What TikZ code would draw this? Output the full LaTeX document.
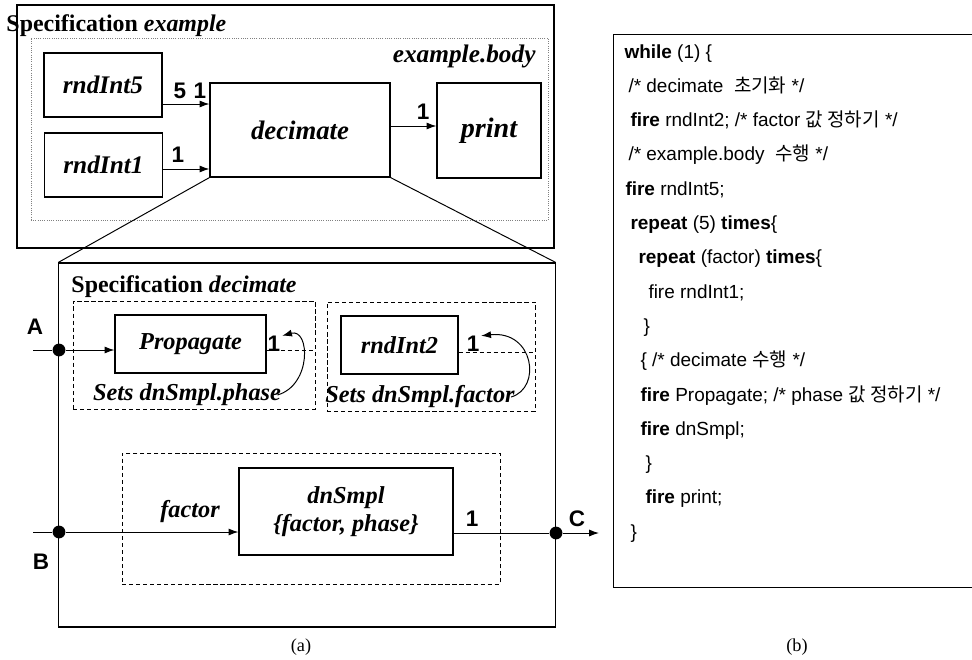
\documentclass[tikz,border=0pt]{standalone}
\usepackage{fontspec}
\setmainfont{Liberation Serif}
\setsansfont{Liberation Sans}
\newfontfamily\krfont{Noto Sans CJK KR}
\usetikzlibrary{arrows,arrows.meta,shapes,positioning}

\begin{document}
\begin{tikzpicture}[x=0.025cm, y=-0.025cm, >={Latex[length=7pt,width=5pt]}, line width=0.7pt,
    blk/.style={draw, line width=0.8pt, inner sep=0pt},
    bigtxt/.style={font=\bfseries\itshape\fontsize{18}{21}\selectfont},
    smalltxt/.style={font=\bfseries\itshape\fontsize{17.3}{20}\selectfont},
    num/.style={font=\sffamily\bfseries\fontsize{16}{18}\selectfont, inner sep=0pt},
    jdot/.style={circle, fill, inner sep=0pt, minimum size=0.32cm},
    dbox/.style={draw, dash pattern=on 3pt off 2pt, line width=0.6pt, inner sep=0pt},
    code/.style={font=\sffamily\fontsize{13.5}{16}\selectfont, anchor=base west, inner sep=0pt}]
  \useasboundingbox (0,0) rectangle (972,659);

  \node[blk, line width=0.9pt, minimum width=13.425cm, minimum height=6.075cm] (specex) at (285.5,126.5) {};
  \node[draw, gray, densely dotted, line width=0.6pt, minimum width=12.925cm, minimum height=4.55cm] (exbody) at (289.5,129) {};
  \node[font=\bfseries\fontsize{17}{20}\selectfont, anchor=base west, inner sep=0pt] (t1) at (6,31) {Specification \textit{example}};
  \node[bigtxt, anchor=base east, inner sep=0pt] (t2) at (536,62) {example.body};

  \node[blk, bigtxt, minimum width=2.95cm, minimum height=1.6cm] (r5) at (103,85) {rndInt5};
  \node[blk, bigtxt, minimum width=2.93cm, minimum height=1.6cm] (r1) at (103.5,165) {rndInt1};
  \node[blk, bigtxt, font=\bfseries\itshape\fontsize{19}{22}\selectfont, minimum width=4.5cm, minimum height=2.35cm] (dec) at (300,130) {decimate};
  \node[blk, bigtxt, font=\bfseries\itshape\fontsize{20}{22}\selectfont, minimum width=2.6cm, minimum height=2.375cm] (pr) at (489,130.5) {print};

  \coordinate (o5) at ([yshift=-0.475cm]r5.east);
  \coordinate (o1) at ([yshift=-0.1cm]r1.east);
  \coordinate (od) at ([yshift=0.1cm]dec.east);
  \draw[->] (o5) -- (o5 -| dec.west);
  \draw[->] (o1) -- (o1 -| dec.west);
  \draw[->] (od) -- (od -| pr.west);
  \node[num] (n5) at (180,91) {5};
  \node[num] (n51) at (200,91) {1};
  \node[num] (n11) at (178,155) {1};
  \node[num] (np) at (423,112) {1};

  \node[blk, minimum width=12.4cm, minimum height=9.1cm] (spdec) at (307,445) {};
  \draw (dec.south west) -- (spdec.north west);
  \draw (dec.south east) -- (spdec.north east);
  \node[font=\bfseries\fontsize{17}{20}\selectfont, anchor=base west, inner sep=0pt] (t3) at (71,292) {Specification \textit{decimate}};

  \node[dbox, minimum width=6.05cm, minimum height=2.7cm] (d1) at (194,355) {};
  \node[dbox, minimum width=5.2cm, minimum height=2.725cm] (d2) at (431,356.5) {};
  \node[dbox, minimum width=9.45cm, minimum height=3.275cm] (d3) at (311,518.5) {};

  \node[blk, smalltxt, minimum width=3.775cm, minimum height=1.45cm] (prop) at (190.5,344) {Propagate};
  \node[blk, smalltxt, minimum width=2.925cm, minimum height=1.45cm] (r2) at (399.5,345) {rndInt2};
  \node[blk, smalltxt, align=center, minimum width=5.35cm, minimum height=2.175cm] (dns) at (346,511.5) {dnSmpl\\\{factor, phase\}};

  \node[smalltxt, inner sep=0pt] (sp) at (187,395) {Sets dnSmpl.phase};
  \node[smalltxt, inner sep=0pt] (sf) at (420,397) {Sets dnSmpl.factor};
  \node[smalltxt, inner sep=0pt] (fac) at (190,512) {factor};
  \node[num] (p1) at (274,344) {1};
  \node[num] (f1) at (473,344) {1};
  \node[num] (o1n) at (472,519) {1};

  \node[jdot] (ja) at (59,350) {};
  \node[jdot] (jb) at (59,532) {};
  \node[jdot] (jc) at (556,533) {};
  \node[num] (la) at (35,327) {A};
  \node[num] (lb) at (41,562) {B};
  \node[num] (lc) at (577,519) {C};
  \coordinate (ain) at (33,350);
  \coordinate (bin) at (33,532);
  \coordinate (cout) at (599,533);

  \draw (ain) -- (ja);
  \draw[->] (ja) -- (ja -| prop.west);
  \draw (bin) -- (jb);
  \draw[->] (jb) -- (jb -| dns.west);
  \draw (jc -| dns.east) -- (jc);
  \draw[->] (jc) -- (cout);
  \coordinate (q2) at ([yshift=-0.175cm]r2.east);
  \draw[dbox] (ja -| prop.east) -- (ja -| d1.east);
  \draw[dbox] (q2) -- (q2 -| d2.east);
  \draw[->] ([xshift=-0.1cm]sp.east) .. controls (312,385) and (310,328) .. ([xshift=1pt]p1.north east);
  \draw[->] ([xshift=-0.1cm]sf.east) .. controls (542,388) and (534,330) .. ([xshift=1pt]f1.north east);

  \draw (972,34) -- (613,34) -- (613,587) -- (972,587);
  \node[code] (c1) at (624,58) {\textbf{while} (1) \{};
  \node[code] (c2) at (628,92.3) {/* decimate \ {\krfont 초기화} */};
  \node[code] (c3) at (630,126.6) {\textbf{fire} rndInt2; /* factor {\krfont 값 정하기} */};
  \node[code] (c4) at (628,160.9) {/* example.body \ {\krfont 수행} */};
  \node[code] (c5) at (625,195.2) {\textbf{fire} rndInt5;};
  \node[code] (c6) at (630,229.5) {\textbf{repeat} (5) \textbf{times}\{};
  \node[code] (c7) at (638,263.8) {\textbf{repeat} (factor) \textbf{times}\{};
  \node[code] (c8) at (648,298.1) {fire rndInt1;};
  \node[code] (c9) at (643,332.4) {\}};
  \node[code] (c10) at (640,366.7) {\{ /* decimate {\krfont 수행} */};
  \node[code] (c11) at (640,401) {\textbf{fire} Propagate; /* phase {\krfont 값 정하기} */};
  \node[code] (c12) at (640,435.3) {\textbf{fire} dnSmpl;};
  \node[code] (c13) at (645,469.6) {\}};
  \node[code] (c14) at (645,503.9) {\textbf{fire} print;};
  \node[code] (c15) at (630,538.2) {\}};

  \node[font=\fontsize{13}{15}\selectfont] (capa) at (301,647) {(a)};
  \node[font=\fontsize{13}{15}\selectfont] (capb) at (797,647) {(b)};
\end{tikzpicture}
\end{document}
